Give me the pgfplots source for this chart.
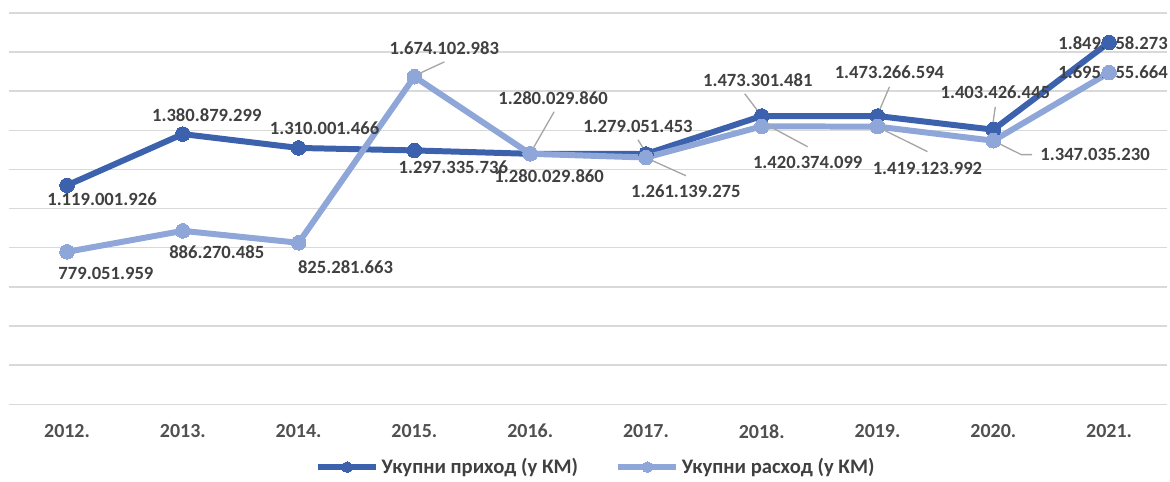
\documentclass[border=0pt]{standalone}
\usepackage{fontspec}
\setmainfont{Carlito}
\usepackage{pgfplots}
\pgfplotsset{compat=1.18}
\definecolor{dk}{HTML}{3C62AE}
\definecolor{lt}{HTML}{8FA6D8}
\definecolor{txt}{HTML}{404040}
\definecolor{tck}{HTML}{505050}
\definecolor{grd}{HTML}{D9D9D9}
\definecolor{ldr}{HTML}{A6A6A6}
\tikzset{lab/.style={font=\fontsize{14}{16}\selectfont\bfseries, text=txt, inner sep=0pt},
 ld/.style={ldr, line width=1pt}}
\begin{document}
\begin{tikzpicture}
\begin{axis}[
 scale only axis, width=870pt, height=294pt,
 xmin=-0.5, xmax=9.5, ymin=0, ymax=2,
 xtick={0,1,2,3,4,5,6,7,8,9},
 xticklabels={2012.,2013.,2014.,2015.,2016.,2017.,2018.,2019.,2020.,2021.},
 ytick={0,0.2,0.4,0.6,0.8,1,1.2,1.4,1.6,1.8,2}, yticklabels={},
 ymajorgrids, grid style={grd, line width=1.1pt},
 axis line style={draw=none}, major tick length=0pt,
 xticklabel style={anchor=center, yshift=-20.25pt, font=\fontsize{15}{17}\selectfont\bfseries, text=tck},
 clip=false,
 legend columns=2,
 legend style={draw=none, fill=none, at={(0.507,-0.1607)}, anchor=center,
   font=\fontsize{15.5}{17}\selectfont\bfseries, text=txt,
   /tikz/every even column/.append style={column sep=26pt}},
 legend image code/.code={\draw[mark repeat=2,mark phase=2,#1, mark size=4pt] plot coordinates {(0pt,0pt) (21.75pt,0pt) (43.5pt,0pt)};},
]
\addplot[dk, line width=4.5pt, line join=round, mark=*, mark size=5.5pt, mark options={solid, line width=0pt}] coordinates {
(0,1.119001926) (1,1.380879299) (2,1.310001466) (3,1.297335736) (4,1.280029860)
(5,1.279051453) (6,1.473301481) (7,1.473266594) (8,1.403426445) (9,1.849558273)};
\addlegendentry{Укупни приход (у КМ)}
\addplot[lt, line width=4.5pt, line join=round, mark=*, mark size=5.5pt, mark options={solid, line width=0pt}] coordinates {
(0,0.779051959) (1,0.886270485) (2,0.825281663) (3,1.674102983) (4,1.280029860)
(5,1.261139275) (6,1.420374099) (7,1.419123992) (8,1.347035230) (9,1.695055664)};
\addlegendentry{Укупни расход (у КМ)}
% leader lines
\draw[ld] (axis cs:4.207,1.495) -- (axis cs:4.009,1.291);
\draw[ld] (axis cs:4.931,1.352) -- (axis cs:5.0,1.286);
\draw[ld] (axis cs:5.853,1.587) -- (axis cs:5.991,1.480);
\draw[ld] (axis cs:7.103,1.622) -- (axis cs:7.0,1.480);
\draw[ld] (axis cs:8.017,1.520) -- (axis cs:7.991,1.413);
\draw[ld] (axis cs:3.259,1.750) -- (axis cs:3.0,1.679);
\draw[ld] (axis cs:5.345,1.168) -- (axis cs:5.0,1.260);
\draw[ld] (axis cs:6.397,1.316) -- (axis cs:6.060,1.423);
\draw[ld] (axis cs:7.431,1.291) -- (axis cs:7.0,1.418);
\draw[ld] (axis cs:8.336,1.276) -- (axis cs:8.241,1.276) -- (axis cs:8.0,1.347);
% dark labels
\node[lab] at (axis cs:0.302,1.046) {1.119.001.926};
\node[lab] at (axis cs:1.207,1.480) {1.380.879.299};
\node[lab] at (axis cs:2.224,1.413) {1.310.001.466};
\node[lab] at (axis cs:3.336,1.214) {1.297.335.736};
\node[lab] at (axis cs:4.164,1.168) {1.280.029.860};
\node[lab] at (axis cs:4.931,1.418) {1.279.051.453};
\node[lab] at (axis cs:5.966,1.658) {1.473.301.481};
\node[lab] at (axis cs:7.103,1.699) {1.473.266.594};
\node[lab] at (axis cs:8.017,1.597) {1.403.426.445};
\node[lab] at (axis cs:9.034,1.847) {1.849.558.273};
% light labels
\node[lab] at (axis cs:0.336,0.668) {779.051.959};
\node[lab] at (axis cs:1.293,0.776) {886.270.485};
\node[lab] at (axis cs:2.405,0.699) {825.281.663};
\node[lab] at (axis cs:3.259,1.821) {1.674.102.983};
\node[lab] at (axis cs:4.198,1.566) {1.280.029.860};
\node[lab] at (axis cs:5.345,1.087) {1.261.139.275};
\node[lab] at (axis cs:6.397,1.235) {1.420.374.099};
\node[lab] at (axis cs:7.431,1.204) {1.419.123.992};
\node[lab] at (axis cs:8.879,1.276) {1.347.035.230};
\node[lab] at (axis cs:9.034,1.699) {1.695.055.664};
\path (axis cs:-0.5603,-0.3878) rectangle (axis cs:9.526,2.0663);
\end{axis}
\end{tikzpicture}
\end{document}
